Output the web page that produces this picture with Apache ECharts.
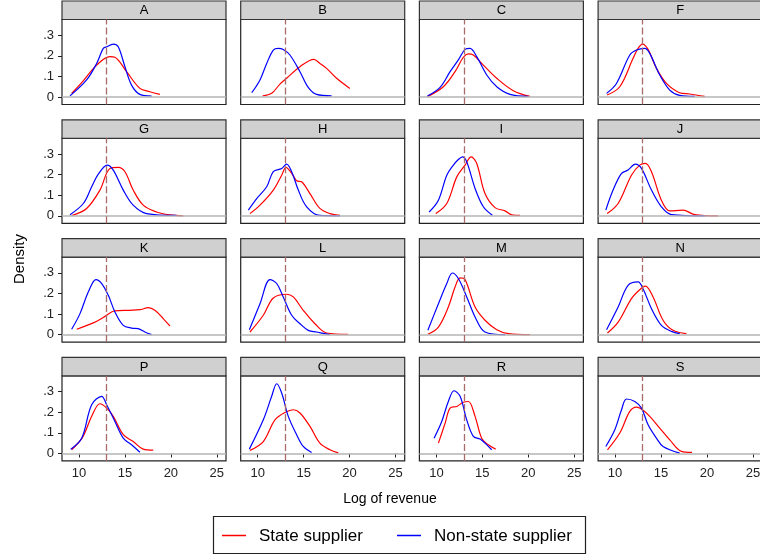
<!DOCTYPE html>
<html>
<head>
<meta charset="utf-8">
<script src="https://cdn.jsdelivr.net/npm/echarts@6/dist/echarts.min.js"></script>
<style>html,body{margin:0;padding:0;background:#fff;overflow:hidden}#c{width:760px;height:558px}</style>
</head>
<body>
<div id="c"></div>
<script>
// ---- data (log revenue, density) ----
const panelNames = ['A','B','C','F','G','H','I','J','K','L','M','N','P','Q','R','S'];
const xTicks = [10, 15, 20, 25];
const yTicks = [0, 0.1, 0.2, 0.3];
const cutoff = 13;

const A_state = [[9.2,0.018],[10.29,0.07],[11.92,0.155],[13.37,0.196],[13.91,0.193],[15.18,0.123],[16.63,0.042],[17.72,0.026],[18.8,0.013]];
const A_non   = [[9.02,0.006],[10.83,0.083],[11.92,0.163],[12.64,0.236],[13.01,0.244],[13.73,0.257],[14.27,0.244],[15.0,0.147],[15.72,0.058],[16.63,0.013],[17.9,0.005]];
const B_state = [[10.54,0.006],[11.52,0.018],[12.42,0.063],[13.15,0.091],[14.6,0.147],[16.12,0.183],[16.77,0.163],[17.5,0.139],[18.59,0.091],[20.03,0.042]];
const B_non   = [[9.35,0.021],[10.25,0.083],[10.98,0.163],[11.7,0.228],[12.24,0.236],[12.78,0.231],[13.51,0.204],[14.6,0.123],[15.5,0.047],[16.41,0.013],[18.04,0.006]];
const C_state = [[9.02,0.002],[10.76,0.05],[12.03,0.123],[12.93,0.193],[13.48,0.209],[14.02,0.204],[15.11,0.155],[16.57,0.091],[18.37,0.031],[20.18,0.003]];
const C_non   = [[9.02,0.005],[10.4,0.047],[11.49,0.123],[12.39,0.18],[13.12,0.231],[13.66,0.236],[14.39,0.196],[15.48,0.107],[16.57,0.05],[18.01,0.013],[20.0,0.003]];
const F_state = [[9.13,0.01],[10.51,0.05],[11.96,0.188],[12.5,0.236],[12.98,0.257],[13.59,0.231],[14.5,0.139],[15.59,0.066],[17.03,0.021],[18.12,0.015],[19.75,0.003]];
const F_non   = [[9.07,0.018],[10.15,0.066],[11.6,0.204],[12.33,0.228],[13.23,0.236],[13.77,0.212],[14.86,0.107],[15.95,0.034],[17.03,0.008],[18.66,0.003]];
const G_state = [[9.2,0.002],[10.83,0.036],[12.28,0.125],[13.37,0.23],[14.27,0.235],[15.0,0.214],[15.9,0.125],[16.99,0.052],[18.45,0.019],[19.9,0.005],[21.34,0.0]];
const G_non   = [[9.02,0.006],[10.47,0.06],[11.38,0.141],[12.1,0.202],[13.08,0.246],[13.73,0.222],[14.82,0.125],[15.9,0.052],[17.36,0.011],[20.6,0.002]];
const H_state = [[9.16,0.011],[10.25,0.052],[11.7,0.125],[12.61,0.197],[13.08,0.235],[13.7,0.206],[14.24,0.17],[14.78,0.165],[15.69,0.108],[16.77,0.036],[17.86,0.011],[18.95,0.003]];
const H_non   = [[8.98,0.028],[9.89,0.084],[10.98,0.141],[11.7,0.214],[12.61,0.23],[13.15,0.251],[13.7,0.214],[14.42,0.125],[15.33,0.044],[16.77,0.002],[18.95,0.0]];
const I_state = [[9.93,0.011],[11.13,0.06],[12.22,0.189],[13.12,0.246],[13.77,0.286],[14.39,0.254],[15.29,0.108],[16.38,0.04],[17.47,0.024],[18.19,0.005],[19.1,0.002]];
const I_non   = [[9.21,0.019],[10.22,0.076],[11.13,0.197],[11.85,0.246],[12.39,0.273],[12.83,0.286],[13.3,0.262],[14.21,0.133],[15.11,0.044],[16.09,0.003]];
const J_state = [[9.13,0.011],[10.33,0.06],[11.78,0.197],[12.68,0.246],[13.3,0.254],[13.96,0.214],[15.04,0.076],[15.95,0.024],[17.39,0.028],[18.66,0.006],[21.2,0.0]];
const J_non   = [[8.99,0.028],[9.78,0.125],[10.7,0.206],[11.41,0.222],[12.21,0.251],[12.87,0.23],[13.96,0.125],[15.04,0.044],[16.13,0.006],[19.75,0.0]];
const K_state = [[9.75,0.026],[11.56,0.057],[12.64,0.083],[13.91,0.115],[15.54,0.118],[16.63,0.121],[17.54,0.131],[18.26,0.118],[19.17,0.078],[19.9,0.042]];
const K_non   = [[9.2,0.026],[10.11,0.102],[11.01,0.207],[11.85,0.267],[12.47,0.248],[13.19,0.191],[13.91,0.11],[14.82,0.045],[15.73,0.032],[16.45,0.029],[17.17,0.013],[17.9,0.0]];
const L_state = [[9.16,0.013],[10.61,0.094],[11.7,0.178],[13.15,0.196],[13.88,0.183],[14.96,0.118],[16.23,0.053],[17.5,0.008],[19.85,0.002]];
const L_non   = [[9.09,0.024],[10.25,0.15],[11.34,0.267],[12.07,0.248],[12.78,0.183],[13.7,0.094],[14.6,0.053],[15.5,0.021],[16.41,0.013],[17.86,0.0]];
const M_state = [[9.07,0.002],[10.22,0.037],[11.3,0.134],[12.03,0.231],[12.58,0.275],[13.12,0.267],[14.21,0.134],[15.29,0.07],[16.57,0.024],[17.83,0.005],[20.18,0.0]];
const M_non   = [[9.07,0.021],[10.22,0.15],[11.13,0.248],[11.74,0.299],[12.39,0.272],[13.3,0.183],[14.21,0.086],[15.29,0.013],[17.47,0.0]];
const N_state = [[9.17,0.008],[10.33,0.061],[11.78,0.175],[12.68,0.218],[13.3,0.235],[14.13,0.183],[15.22,0.07],[16.3,0.021],[17.76,0.005]];
const N_non   = [[9.07,0.024],[10.33,0.134],[11.41,0.239],[12.5,0.256],[13.04,0.223],[13.96,0.126],[15.04,0.045],[16.13,0.016],[17.03,0.005]];
const P_state = [[9.2,0.018],[10.4,0.079],[11.38,0.18],[12.28,0.241],[13.01,0.22],[13.73,0.18],[14.82,0.091],[15.9,0.058],[16.99,0.021],[18.08,0.016]];
const P_non   = [[9.1,0.021],[10.29,0.074],[11.38,0.236],[12.47,0.277],[13.01,0.236],[13.91,0.155],[14.82,0.074],[15.72,0.042],[16.63,0.006]];
const Q_state = [[9.16,0.015],[10.61,0.058],[11.88,0.163],[12.97,0.199],[13.88,0.212],[14.6,0.196],[15.69,0.131],[16.77,0.05],[17.86,0.018],[18.77,0.003]];
const Q_non   = [[9.09,0.021],[10.61,0.163],[11.52,0.277],[12.07,0.338],[12.61,0.293],[13.33,0.18],[14.24,0.091],[14.96,0.034],[15.87,0.005]];
const R_state = [[10.22,0.05],[10.95,0.147],[11.49,0.22],[12.22,0.228],[12.93,0.248],[13.48,0.252],[14.21,0.18],[14.93,0.074],[15.65,0.042],[16.45,0.021]];
const R_non   = [[9.75,0.074],[10.58,0.155],[11.3,0.252],[11.92,0.304],[12.58,0.277],[13.3,0.163],[14.02,0.083],[14.75,0.07],[15.29,0.05],[16.02,0.018]];
const S_state = [[9.17,0.018],[10.51,0.099],[11.6,0.204],[12.33,0.225],[12.87,0.215],[13.77,0.18],[14.86,0.123],[15.95,0.066],[17.22,0.01],[18.37,0.005]];
const S_non   = [[8.99,0.034],[9.97,0.115],[10.7,0.212],[11.24,0.264],[12.14,0.252],[12.87,0.22],[13.59,0.139],[14.5,0.074],[15.22,0.034],[17.03,0.002]];

const stateSeries = {A:A_state,B:B_state,C:C_state,F:F_state,G:G_state,H:H_state,I:I_state,J:J_state,K:K_state,L:L_state,M:M_state,N:N_state,P:P_state,Q:Q_state,R:R_state,S:S_state};
const nonSeries = {A:A_non,B:B_non,C:C_non,F:F_non,G:G_non,H:H_non,I:I_non,J:J_non,K:K_non,L:L_non,M:M_non,N:N_non,P:P_non,Q:Q_non,R:R_non,S:S_non};

// ---- layout ----
const FONT = 'Liberation Sans, Arial, sans-serif';
const colStep = 178.7, rowStep = 118.8, left0 = 62, gridW = 164;
const stripH = 18.5, gridH = 85;

const grids = [], xAxes = [], yAxes = [], series = [], graphics = [];
panelNames.forEach((name, i) => {
  const r = Math.floor(i / 4), c = i % 4;
  const L = left0 + c * colStep;
  const stripTop = 1 + r * rowStep;
  const gTop = stripTop + stripH;
  grids.push({left: L, top: gTop, width: gridW, height: gridH, show: true,
    containLabel: false, outerBoundsMode: 'none',
    borderColor: '#222', borderWidth: 1.2, backgroundColor: '#fff'});
  xAxes.push({type: 'value', gridIndex: i, min: 8.15, max: 26,
    axisLine: {show: false}, splitLine: {show: false},
    axisTick: {show: r === 3, customValues: xTicks, length: 4, lineStyle: {color: '#222', width: 1}},
    axisLabel: {show: r === 3, customValues: xTicks, margin: 6, fontSize: 13, color: '#222', fontFamily: FONT}});
  yAxes.push({type: 'value', gridIndex: i, min: -0.036, max: 0.376,
    axisLine: {show: false}, splitLine: {show: false},
    axisTick: {show: c === 0, customValues: yTicks, length: 4, lineStyle: {color: '#222', width: 1}},
    axisLabel: {show: c === 0, customValues: yTicks, margin: 8, fontSize: 13, color: '#222', fontFamily: FONT,
      formatter: v => v === 0 ? '0' : '.' + Math.round(v * 10)}});
  series.push({type: 'line', name: 'State supplier', xAxisIndex: i, yAxisIndex: i,
    data: stateSeries[name], smooth: 0.35, showSymbol: false, silent: true,
    lineStyle: {color: '#ff0000', width: 1.2}, z: 3,
    markLine: {silent: true, symbol: 'none', label: {show: false}, animation: false,
      data: [
        {yAxis: 0, lineStyle: {color: '#b4b4b4', width: 1.6, type: 'solid'}},
        {xAxis: cutoff, lineStyle: {color: '#a86a6a', width: 1.3, type: [7, 3]}}
      ]}});
  series.push({type: 'line', name: 'Non-state supplier', xAxisIndex: i, yAxisIndex: i,
    data: nonSeries[name], smooth: 0.35, showSymbol: false, silent: true,
    lineStyle: {color: '#0000ff', width: 1.2}, z: 3});
  graphics.push({type: 'rect', shape: {x: L, y: stripTop, width: gridW, height: stripH},
    style: {fill: '#d0d0d0', stroke: '#333', lineWidth: 1.2}});
  graphics.push({type: 'text', x: L + gridW / 2, y: stripTop + stripH / 2 + 0.5,
    style: {text: name, font: '13px ' + FONT, fill: '#000', align: 'center', verticalAlign: 'middle'}});
});

// axis titles
graphics.push({type: 'text', x: 20, y: 259, rotation: Math.PI / 2,
  style: {text: 'Density', font: '15px ' + FONT, fill: '#000', align: 'center', verticalAlign: 'middle'}});
graphics.push({type: 'text', x: 390, y: 499,
  style: {text: 'Log of revenue', font: '14px ' + FONT, fill: '#000', align: 'center', verticalAlign: 'middle'}});
// legend
graphics.push({type: 'rect', shape: {x: 213.5, y: 516.5, width: 372, height: 37},
  style: {fill: '#fff', stroke: '#222', lineWidth: 1.2}});
graphics.push({type: 'line', shape: {x1: 222, y1: 535.5, x2: 246, y2: 535.5}, style: {stroke: '#ff0000', lineWidth: 1.5}});
graphics.push({type: 'text', x: 259, y: 536, style: {text: 'State supplier', font: '17px ' + FONT, fill: '#000', verticalAlign: 'middle'}});
graphics.push({type: 'line', shape: {x1: 397, y1: 535.5, x2: 421, y2: 535.5}, style: {stroke: '#0000ff', lineWidth: 1.5}});
graphics.push({type: 'text', x: 434, y: 536, style: {text: 'Non-state supplier', font: '17px ' + FONT, fill: '#000', verticalAlign: 'middle'}});

const chart = echarts.init(document.getElementById('c'), null, {renderer: 'canvas'});
chart.setOption({
  animation: false,
  backgroundColor: '#fff',
  grid: grids, xAxis: xAxes, yAxis: yAxes, series: series,
  graphic: graphics
});
</script>
</body>
</html>
